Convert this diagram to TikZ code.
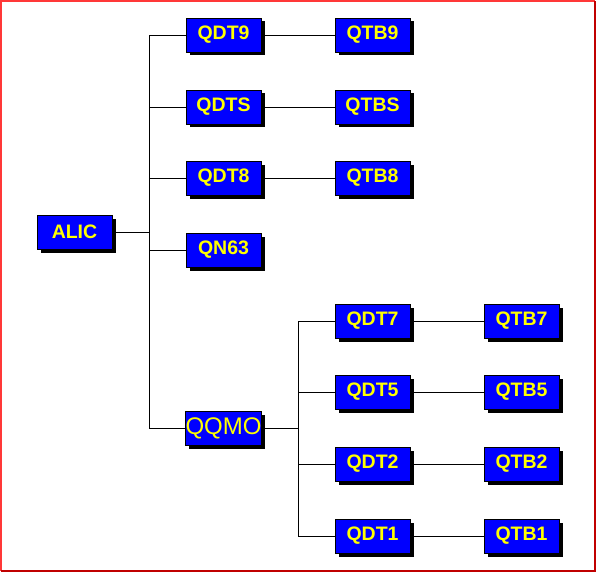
\documentclass[tikz,border=0pt]{standalone}
\usepackage{fontspec}
\setmainfont{Liberation Sans}
\usetikzlibrary{shadows}
\definecolor{frameA}{HTML}{FF3838}
\definecolor{frameB}{HTML}{C00000}
\definecolor{boxblue}{HTML}{0000FF}
\definecolor{boxtext}{HTML}{FFFF00}
\tikzset{
  box/.style={draw=black, line width=0.9pt, fill=boxblue, text=boxtext,
    font=\fontsize{19.5}{21}\selectfont\bfseries,
    minimum width=75pt, minimum height=34pt, inner sep=0pt,
    drop shadow={shadow xshift=3.5pt, shadow yshift=-3.5pt, fill=black, opacity=1}},
  plainbox/.style={box, font=\fontsize{24}{25}\selectfont},
  link/.style={draw=black, line width=0.9pt}
}
\begin{document}
\begin{tikzpicture}[x=1pt,y=-1pt]
\useasboundingbox (0,0) rectangle (596,572);
\fill[white] (0,0) rectangle (596,572);
\draw[frameA, line width=2.4pt] (1.2,571) -- (1.2,1.2) -- (595,1.2);
\draw[frameB, line width=2.4pt] (594.8,1.2) -- (594.8,570.8) -- (1.2,570.8);

\node[box] (ALIC) at (74.5,232) {ALIC};
\node[box] (QDT9) at (223.5,35) {QDT9};
\node[box] (QDTS) at (223.5,107) {QDTS};
\node[box] (QDT8) at (223.5,178) {QDT8};
\node[box] (QN63) at (223.5,250) {QN63};
\node[plainbox] (QQMO) at (223.5,428) {QQMO};
\node[box] (QTB9) at (372.5,35) {QTB9};
\node[box] (QTBS) at (372.5,107) {QTBS};
\node[box] (QTB8) at (372.5,178) {QTB8};
\node[box] (QDT7) at (372.5,321) {QDT7};
\node[box] (QDT5) at (372.5,392) {QDT5};
\node[box] (QDT2) at (372.5,464) {QDT2};
\node[box] (QDT1) at (372.5,536) {QDT1};
\node[box] (QTB7) at (521.5,321) {QTB7};
\node[box] (QTB5) at (521.5,392) {QTB5};
\node[box] (QTB2) at (521.5,464) {QTB2};
\node[box] (QTB1) at (521.5,536) {QTB1};

\coordinate (j1) at (149,232);
\coordinate (j2) at (298,428);

\draw[link] (ALIC.east) -- (j1);
\draw[link] (j1) |- (QDT9.west);
\draw[link] (j1) |- (QDTS.west);
\draw[link] (j1) |- (QDT8.west);
\draw[link] (j1) |- (QN63.west);
\draw[link] (j1) |- (QQMO.west);
\draw[link] (QDT9.east) -- (QTB9.west);
\draw[link] (QDTS.east) -- (QTBS.west);
\draw[link] (QDT8.east) -- (QTB8.west);
\draw[link] (QQMO.east) -- (j2);
\draw[link] (j2) |- (QDT7.west);
\draw[link] (j2) |- (QDT5.west);
\draw[link] (j2) |- (QDT2.west);
\draw[link] (j2) |- (QDT1.west);
\draw[link] (QDT7.east) -- (QTB7.west);
\draw[link] (QDT5.east) -- (QTB5.west);
\draw[link] (QDT2.east) -- (QTB2.west);
\draw[link] (QDT1.east) -- (QTB1.west);
\end{tikzpicture}
\end{document}
